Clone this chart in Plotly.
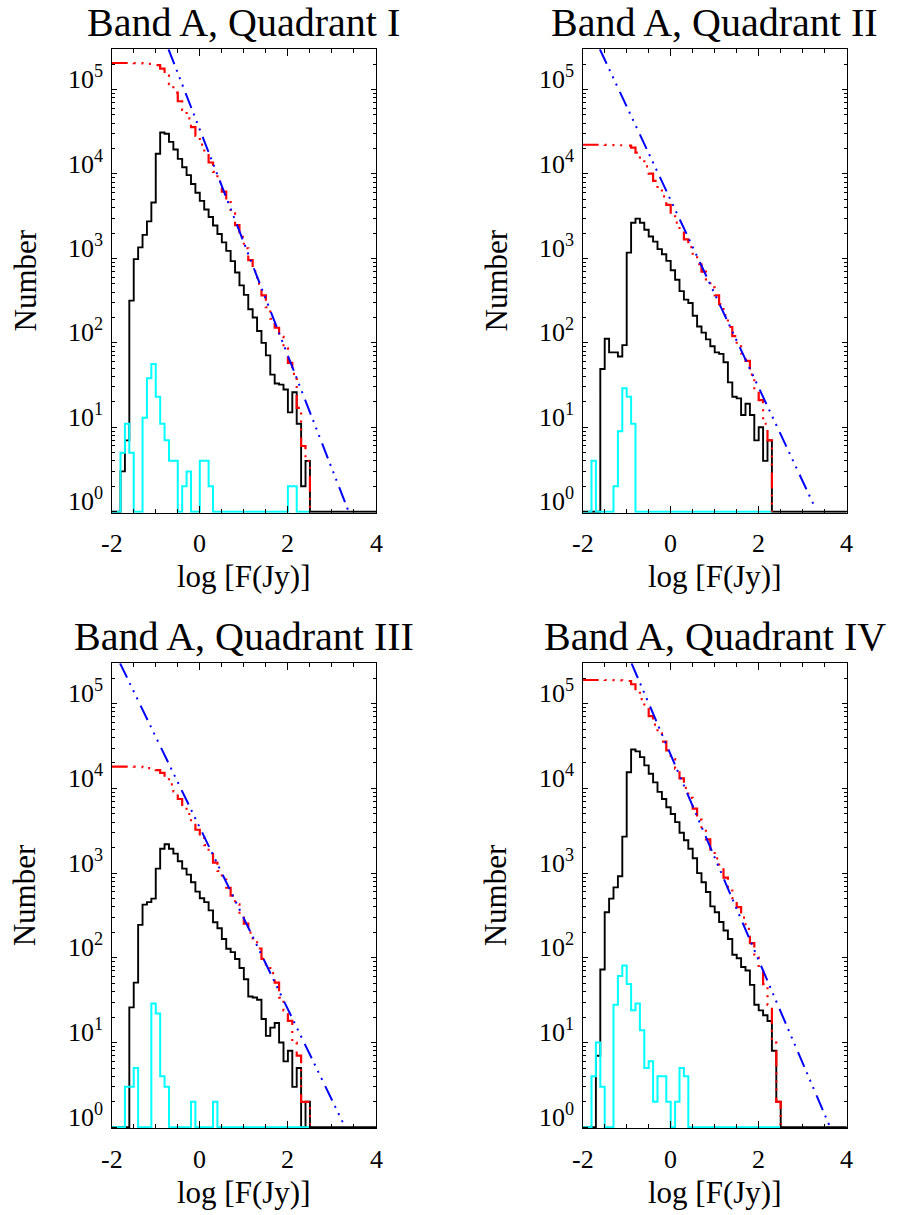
import plotly.graph_objects as go

# ---------------- data ----------------
# histogram bin edges in log F (Jy); 60 bins of 0.1 dex
log_flux_edges = [-2.0, -1.9, -1.8, -1.7, -1.6, -1.5, -1.4, -1.3, -1.2, -1.1,
                  -1.0, -0.9, -0.8, -0.7, -0.6, -0.5, -0.4, -0.3, -0.2, -0.1,
                  0.0, 0.1, 0.2, 0.3, 0.4, 0.5, 0.6, 0.7, 0.8, 0.9,
                  1.0, 1.1, 1.2, 1.3, 1.4, 1.5, 1.6, 1.7, 1.8, 1.9,
                  2.0, 2.1, 2.2, 2.3, 2.4, 2.5, 2.6, 2.7, 2.8, 2.9,
                  3.0, 3.1, 3.2, 3.3, 3.4, 3.5, 3.6, 3.7, 3.8, 3.9, 4.0]

panel_titles = ["Band A, Quadrant I", "Band A, Quadrant II",
                "Band A, Quadrant III", "Band A, Quadrant IV"]
x_axis_title = "log [F(Jy)]"
y_axis_title = "Number"

# black: differential counts per bin
q1_counts = [0, 0, 3, 7, 316, 980, 1350, 1900, 2750, 4600,
             17400, 31000, 30000, 24000, 19500, 15100, 12000, 9700, 7600, 6000,
             4800, 3800, 3100, 2450, 1950, 1550, 1230, 930, 680, 480,
             370, 250, 200, 138, 100, 71, 42, 33, 32, 28,
             15, 26, 11, 2, 4, 0, 0, 0, 0, 0,
             0, 0, 0, 0, 0, 0, 0, 0, 0, 0]
q2_counts = [0, 0, 0, 0, 49, 112, 77, 77, 69, 94,
             1170, 2640, 2960, 2640, 2190, 1820, 1580, 1290, 1120, 935,
             725, 560, 410, 325, 297, 209, 156, 132, 110, 91,
             77, 74, 59, 34, 23, 22, 14, 19, 14, 7,
             10, 4, 7, 0, 0, 0, 0, 0, 0, 0,
             0, 0, 0, 0, 0, 0, 0, 0, 0, 0]
q3_counts = [0, 0, 0, 0, 26, 51, 245, 425, 455, 500,
             1130, 1940, 2190, 1940, 1700, 1380, 1130, 960, 780, 605,
             505, 455, 363, 263, 224, 167, 128, 117, 97, 76,
             56, 35, 34, 32, 19, 12, 15, 17, 10, 6,
             8, 3, 5, 0, 2, 0, 0, 0, 0, 0,
             0, 0, 0, 0, 0, 0, 0, 0, 0, 0]
q4_counts = [0, 0, 0, 7, 73, 346, 500, 680, 920, 2700,
             15500, 28800, 27400, 23400, 18700, 14900, 11800, 9100, 7500, 6000,
             5000, 4000, 3000, 2440, 1940, 1500, 1000, 780, 600, 405,
             346, 265, 210, 167, 109, 99, 78, 71, 48, 28,
             24, 21, 18, 8, 2, 0, 0, 0, 0, 0,
             0, 0, 0, 0, 0, 0, 0, 0, 0, 0]

# red: cumulative counts N(>F)
q1_cumulative = [206500, 206500, 206500, 206500, 206490, 206170, 205190, 203840, 201940, 199190,
                 194590, 177190, 146190, 116190, 92190, 72690, 57590, 45590, 35890, 28290,
                 22290, 17490, 13690, 10590, 8140, 6190, 4640, 3410, 2480, 1800,
                 1320, 952, 702, 502, 364, 264, 193, 151, 118, 86,
                 58, 43, 17, 6, 4]
q2_cumulative = [22200, 22200, 22200, 22200, 22200, 22150, 22040, 21960, 21890, 21820,
                 21720, 20550, 17910, 14950, 12310, 10120, 8300, 6720, 5430, 4310,
                 3380, 2650, 2090, 1680, 1360, 1060, 853, 697, 565, 455,
                 364, 287, 213, 154, 120, 97, 75, 61, 42, 28,
                 21, 11, 7]
q3_cumulative = [18110, 18110, 18110, 18110, 18110, 18080, 18030, 17780, 17360, 16900,
                 16400, 15270, 13330, 11140, 9200, 7500, 6120, 4990, 4030, 3250,
                 2650, 2140, 1690, 1330, 1060, 839, 672, 544, 427, 330,
                 254, 198, 163, 129, 97, 78, 66, 51, 34, 24,
                 18, 10, 7, 2, 2]
q4_cumulative = [190500, 190500, 190500, 190500, 190480, 190400, 190060, 189560, 188880, 187960,
                 185260, 169760, 140960, 113560, 90160, 71460, 56560, 44760, 35660, 28160,
                 22160, 17160, 13160, 10160, 7720, 5780, 4280, 3280, 2500, 1900,
                 1490, 1150, 883, 673, 506, 397, 298, 220, 149, 101,
                 73, 49, 28, 10, 2]

# cyan: second sample histogram
q1_cyan = [0, 0, 5, 11, 5, 0, 0, 13, 38, 56,
           23, 11, 7, 4, 4, 0, 2, 3, 0, 0,
           4, 4, 2, 0, 0, 0, 0, 0, 0, 0,
           0, 0, 0, 0, 0, 0, 0, 0, 0, 0,
           2, 2, 0, 0, 0]
q2_cyan = [0, 0, 4, 0, 0, 0, 0, 2, 9, 29,
           23, 11, 0, 0, 0, 0, 0, 0, 0, 0,
           0, 0, 0, 0, 0, 0, 0, 0, 0, 0,
           0, 0, 0, 0, 0, 0, 0, 0, 0, 0,
           0, 0, 0]
q3_cyan = [0, 0, 0, 3, 3, 5, 0, 0, 0, 29,
           22, 4, 3, 0, 0, 0, 0, 0, 2, 0,
           0, 0, 0, 2, 0, 0, 0, 0, 0, 0,
           0, 0, 0, 0, 0, 0, 0, 0, 0, 0,
           0, 0, 0, 0, 0]
q4_cyan = [0, 0, 4, 10, 3, 0, 0, 28, 61, 81,
           49, 24, 29, 14, 5, 6, 2, 4, 4, 2,
           0, 2, 5, 4, 0, 0, 0, 0, 0, 0,
           0, 0, 0, 0, 0, 0, 0, 0, 0, 0,
           0, 0, 0, 0, 0]

# blue: power-law fit, end points (log F, N)
q1_fit_logf = [-0.71, 3.38]
q1_fit_n = [300000, 1.0]
q2_fit_logf = [-1.61, 3.28]
q2_fit_n = [300000, 1.12]
q3_fit_logf = [-1.81, 3.30]
q3_fit_n = [300000, 1.0]
q4_fit_logf = [-0.89, 3.60]
q4_fit_n = [300000, 1.07]

y_tick_exponents = [0, 1, 2, 3, 4, 5]
y_tick_labels = ["10<sup>0</sup>", "10<sup>1</sup>", "10<sup>2</sup>",
                 "10<sup>3</sup>", "10<sup>4</sup>", "10<sup>5</sup>"]
x_tick_values = [-2, 0, 2, 4]
x_tick_labels = ["-2", "0", "2", "4"]

# ---------------- layout ----------------
W, H = 900, 1215
FONT = "Liberation Serif"
FLOOR = 1.0  # zero counts are drawn on the bottom axis
TICK_SIZE = 26
LABEL_SIZE = 31
TITLE_SIZE = 40

boxes = [  # left, right, top, bottom in pixels
    (111.7, 376.0, 49.3, 512.7),
    (582.7, 846.7, 49.3, 512.7),
    (111.7, 376.0, 663.3, 1128.3),
    (582.7, 846.7, 663.3, 1128.3),
]

counts = [q1_counts, q2_counts, q3_counts, q4_counts]
cumul = [q1_cumulative, q2_cumulative, q3_cumulative, q4_cumulative]
cyans = [q1_cyan, q2_cyan, q3_cyan, q4_cyan]
fits = [(q1_fit_logf, q1_fit_n), (q2_fit_logf, q2_fit_n),
        (q3_fit_logf, q3_fit_n), (q4_fit_logf, q4_fit_n)]


def step(values, drop):
    n = len(values)
    xs = list(log_flux_edges[:n + 1])
    ys = [v if v > 0 else FLOOR for v in values] + [values[-1] if values[-1] > 0 else FLOOR]
    if drop:
        xs.append(log_flux_edges[n])
        ys.append(FLOOR)
    return xs, ys


minor_y = []
for e in y_tick_exponents:
    for m in range(2, 10):
        minor_y.append(m * 10 ** e)

DASH = "16px,6px,2px,6px,2px,6px,2px,7px"

fig = go.Figure()
annotations = []
layout = dict(
    width=W, height=H, margin=dict(l=0, r=0, t=0, b=0, autoexpand=False),
    paper_bgcolor="white", plot_bgcolor="white", showlegend=False,
    font=dict(family=FONT, size=TICK_SIZE, color="black"),
)


def txt(size):
    return dict(family=FONT, size=size, color="black")


for i in range(4):
    l, r, t, b = boxes[i]
    ax = "" if i == 0 else str(i + 1)
    xa, ya = "x" + ax, "y" + ax

    bx, by = step(counts[i], False)
    fig.add_trace(go.Scatter(x=bx, y=by, mode="lines", line_shape="hv",
                             line=dict(color="black", width=1.9), xaxis=xa, yaxis=ya))
    cx, cy = step(cyans[i], True)
    fig.add_trace(go.Scatter(x=cx, y=cy, mode="lines", line_shape="hv",
                             line=dict(color="#00FFFF", width=2), xaxis=xa, yaxis=ya))
    rx, ry = step(cumul[i], True)
    fig.add_trace(go.Scatter(x=rx, y=ry, mode="lines", line_shape="hv",
                             line=dict(color="#FF0000", width=2.2, dash=DASH), xaxis=xa, yaxis=ya))
    fx, fy = fits[i]
    fig.add_trace(go.Scatter(x=fx, y=fy, mode="lines",
                             line=dict(color="#0000FF", width=2, dash=DASH), xaxis=xa, yaxis=ya))

    layout["xaxis" + ax] = dict(
        domain=[l / W, r / W], anchor=ya, range=[-2, 4], automargin=False,
        tickmode="array", tickvals=x_tick_values, showticklabels=False,
        ticks="inside", ticklen=7, tickwidth=1, tickcolor="black",
        minor=dict(dtick=0.5, tick0=-2, ticks="inside", ticklen=4, tickwidth=1, tickcolor="black"),
        showline=True, linecolor="black", linewidth=1, mirror="allticks",
        showgrid=False, zeroline=False,
    )
    layout["yaxis" + ax] = dict(
        domain=[1 - b / H, 1 - t / H], anchor=xa, type="log", range=[-0.012, 5.477],
        automargin=False,
        tickmode="array", tickvals=[10 ** e for e in y_tick_exponents], showticklabels=False,
        ticks="inside", ticklen=5, tickwidth=1, tickcolor="black",
        minor=dict(tickmode="array", tickvals=minor_y, ticks="inside", ticklen=3,
                   tickwidth=1, tickcolor="black"),
        showline=True, linecolor="black", linewidth=1, mirror="allticks",
        showgrid=False, zeroline=False,
    )

    # y tick labels: baseline on the tick, right aligned left of the axis
    for e, lab in zip(y_tick_exponents, y_tick_labels):
        annotations.append(dict(
            text=lab, xref="paper", yref=ya, x=l / W, y=e,
            xanchor="right", yanchor="bottom", xshift=-8, yshift=-5.6, borderpad=0,
            showarrow=False, font=txt(TICK_SIZE)))
    # x tick labels
    for v, lab in zip(x_tick_values, x_tick_labels):
        annotations.append(dict(
            text=lab, xref=xa, yref="paper", x=v, y=1 - b / H,
            xanchor="center", yanchor="top", yshift=-15.7, borderpad=0,
            showarrow=False, font=txt(TICK_SIZE)))
    # x axis title
    annotations.append(dict(
        text=x_axis_title, xref="paper", yref="paper", x=(l + r) / 2 / W, y=1 - b / H,
        xanchor="center", yanchor="top", yshift=-45.5, borderpad=0,
        showarrow=False, font=txt(LABEL_SIZE)))
    # y axis title
    annotations.append(dict(
        text=y_axis_title, xref="paper", yref="paper", x=(l - 87.2) / W, y=1 - (t + b) / 2 / H,
        xanchor="center", yanchor="middle", textangle=-90, borderpad=0,
        showarrow=False, font=txt(LABEL_SIZE)))
    # panel title
    annotations.append(dict(
        text=panel_titles[i], xref="paper", yref="paper",
        x=(l + r) / 2 / W, y=1 - t / H, xanchor="center", yanchor="bottom",
        yshift=2.7, showarrow=False, font=txt(TITLE_SIZE)))

layout["annotations"] = annotations
fig.update_layout(**layout)
fig.write_html("out.html", config={"displayModeBar": False},
               post_script="document.body.style.margin='0';")
